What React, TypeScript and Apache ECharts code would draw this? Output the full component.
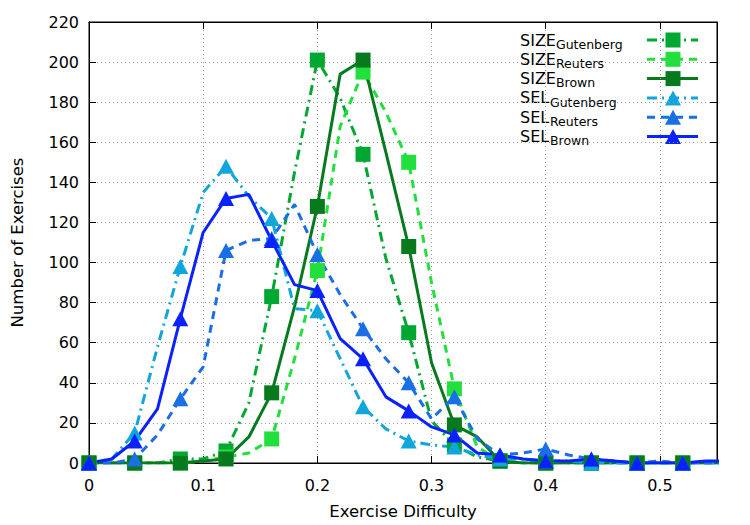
import React, { useEffect, useRef } from "react";
import * as echarts from "echarts";

// Exercise difficulty sampled every 0.02; markers sit on every second sample.
const difficulty = [
  0, 0.02, 0.04, 0.06, 0.08, 0.1, 0.12, 0.14, 0.16, 0.18, 0.2, 0.22, 0.24, 0.26,
  0.28, 0.3, 0.32, 0.34, 0.36, 0.38, 0.4, 0.42, 0.44, 0.46, 0.48, 0.5, 0.52, 0.54, 0.56,
];

const sizeGutenberg = [
  0, 0, 0, 0, 2, 2, 6, 30, 83, 145, 201, 182, 154, 102, 65, 21, 9, 3, 1, 0, 0, 0, 0, 0, 0, 0, 0, 0, 0,
];
const sizeReuters = [
  0, 0, 0, 0, 0, 1, 3, 5, 12, 52, 96, 168, 195, 175, 150, 90, 37, 8, 1, 0, 0, 0, 0, 0, 0, 0, 0, 0, 0,
];
const sizeBrown = [
  0, 0, 0, 0, 0, 1, 2, 13, 35, 78, 128, 194, 201, 155, 108, 50, 19, 13, 1, 0, 0, 0, 0, 0, 0, 0, 0, 0, 0,
];
const selGutenberg = [
  0, 2, 15, 58, 98, 135, 148, 133, 122, 77, 76, 52, 28, 17, 11, 9, 8, 4, 2, 2, 1, 1, 0, 0, 0, 0, 0, 0, 0,
];
const selReuters = [
  0, 0, 2, 14, 32, 48, 106, 111, 112, 129, 104, 84, 67, 52, 40, 22, 33, 12, 4, 5, 7, 4, 2, 1, 0, 1, 0, 0, 0,
];
const selBrown = [
  0, 2, 11, 27, 72, 115, 132, 134, 111, 89, 86, 62, 52, 33, 26, 18, 14, 5, 4, 2, 1, 1, 2, 1, 0, 0, 0, 1, 1,
];

const xTickStep = 0.1;
const yTickStep = 20;
const xMax = 0.55;
const yMax = 220;

const FONT = "'DejaVu Sans', sans-serif";

type Curve = {
  base: string;
  sub: string;
  values: number[];
  color: string;
  dash: number[] | null;
  marker: "rect" | "triangle";
};

const curves: Curve[] = [
  { base: "SIZE", sub: "Gutenberg", values: sizeGutenberg, color: "#00a832", dash: [10, 5, 2, 5], marker: "rect" },
  { base: "SIZE", sub: "Reuters", values: sizeReuters, color: "#22e03c", dash: [8, 6], marker: "rect" },
  { base: "SIZE", sub: "Brown", values: sizeBrown, color: "#087a1e", dash: null, marker: "rect" },
  { base: "SEL", sub: "Gutenberg", values: selGutenberg, color: "#10a6dc", dash: [10, 5, 2, 5], marker: "triangle" },
  { base: "SEL", sub: "Reuters", values: selReuters, color: "#1a6ee6", dash: [8, 6], marker: "triangle" },
  { base: "SEL", sub: "Brown", values: selBrown, color: "#0a22ff", dash: null, marker: "triangle" },
];

const markerSize = (m: Curve["marker"]) => (m === "rect" ? [15, 15] : [16, 15]);

function buildLegend() {
  const items: any[] = [];
  const left = 520;
  const top = 40;
  const step = 19.3;
  const lineX1 = 647;
  const lineX2 = 698;
  const mx = 673;
  curves.forEach((c, i) => {
    const y = top + i * step;
    const baseWidth = c.base === "SIZE" ? 36 : 30;
    items.push({
      type: "text",
      x: left,
      y,
      silent: true,
      style: {
        text: c.base,
        fontSize: 16,
        fontFamily: FONT,
        fill: "#000",
        align: "left",
        verticalAlign: "middle",
        textAlign: "left",
        textVerticalAlign: "middle",
      },
    });
    items.push({
      type: "text",
      x: left + baseWidth,
      y: y + 4.2,
      silent: true,
      style: {
        text: c.sub,
        fontSize: 12.5,
        fontFamily: FONT,
        fill: "#000",
        align: "left",
        verticalAlign: "middle",
        textAlign: "left",
        textVerticalAlign: "middle",
      },
    });
    items.push({
      type: "line",
      silent: true,
      shape: { x1: lineX1, y1: y, x2: lineX2, y2: y },
      style: { stroke: c.color, lineWidth: 3, lineDash: c.dash || undefined },
    });
    const [w, h] = markerSize(c.marker);
    if (c.marker === "rect") {
      items.push({
        type: "rect",
        silent: true,
        shape: { x: mx - w / 2, y: y - h / 2, width: w, height: h },
        style: { fill: c.color },
      });
    } else {
      items.push({
        type: "polygon",
        silent: true,
        shape: {
          points: [
            [mx, y - h / 2],
            [mx + w / 2, y + h / 2],
            [mx - w / 2, y + h / 2],
          ],
        },
        style: { fill: c.color },
      });
    }
  });
  return items;
}

export default function App() {
  const ref = useRef<HTMLDivElement>(null);

  useEffect(() => {
    if (!ref.current) return;
    const chart = echarts.init(ref.current, undefined, { renderer: "svg" });

    const tickStyle = { show: true, inside: true, length: 7, lineStyle: { color: "#000", width: 1 } };
    const axisLine = { show: true, onZero: false, lineStyle: { color: "#000", width: 1 } };
    const gridLine = { show: true, lineStyle: { color: "#a0a0a0", width: 1, type: [1, 3] as any } };
    const labelStyle = { color: "#000", fontSize: 16, fontFamily: FONT };
    const titleStyle = { color: "#000", fontSize: 16.5, fontFamily: FONT };

    const series = curves.map((c) => ({
      type: "line",
      name: c.base + c.sub,
      data: difficulty.map((x, i) => [x, c.values[i]]),
      showSymbol: true,
      showAllSymbol: true,
      symbol: (value: number[], params: any) =>
        params.dataIndex % 2 === 0 && value[0] < xMax ? c.marker : "none",
      symbolSize: markerSize(c.marker),
      itemStyle: { color: c.color },
      lineStyle: { color: c.color, width: 3, type: c.dash ? (c.dash as any) : "solid", cap: "butt" },
      clip: true,
      silent: true,
      emphasis: { disabled: true },
    }));

    chart.setOption({
      animation: false,
      backgroundColor: "#fff",
      textStyle: { fontFamily: FONT },
      grid: {
        left: 89,
        right: 33,
        top: 22,
        bottom: 61,
        show: true,
        borderColor: "#000",
        borderWidth: 1,
        backgroundColor: "transparent",
      },
      xAxis: [
        {
          type: "value",
          position: "bottom",
          min: 0,
          max: xMax,
          interval: xTickStep,
          axisLine,
          axisTick: tickStyle,
          axisLabel: { ...labelStyle, margin: 14, showMaxLabel: false },
          splitLine: gridLine,
          name: "Exercise Difficulty",
          nameLocation: "middle",
          nameGap: 40,
          nameTextStyle: titleStyle,
        },
        {
          type: "value",
          position: "top",
          min: 0,
          max: xMax,
          interval: xTickStep,
          axisLine,
          axisTick: tickStyle,
          axisLabel: { show: false },
          splitLine: { show: false },
        },
      ],
      yAxis: [
        {
          type: "value",
          position: "left",
          min: 0,
          max: yMax,
          interval: yTickStep,
          axisLine,
          axisTick: tickStyle,
          axisLabel: { ...labelStyle, margin: 10 },
          splitLine: gridLine,
          name: "Number of Exercises",
          nameLocation: "middle",
          nameRotate: 90,
          nameGap: 63,
          nameTextStyle: titleStyle,
        },
        {
          type: "value",
          position: "right",
          min: 0,
          max: yMax,
          interval: yTickStep,
          axisLine,
          axisTick: tickStyle,
          axisLabel: { show: false },
          splitLine: { show: false },
        },
      ],
      series,
      graphic: { elements: buildLegend() },
    });

    return () => chart.dispose();
  }, []);

  return (
    <div
      ref={ref}
      style={{ position: "absolute", left: 0, top: 0, width: 750, height: 525, background: "#fff" }}
    />
  );
}
